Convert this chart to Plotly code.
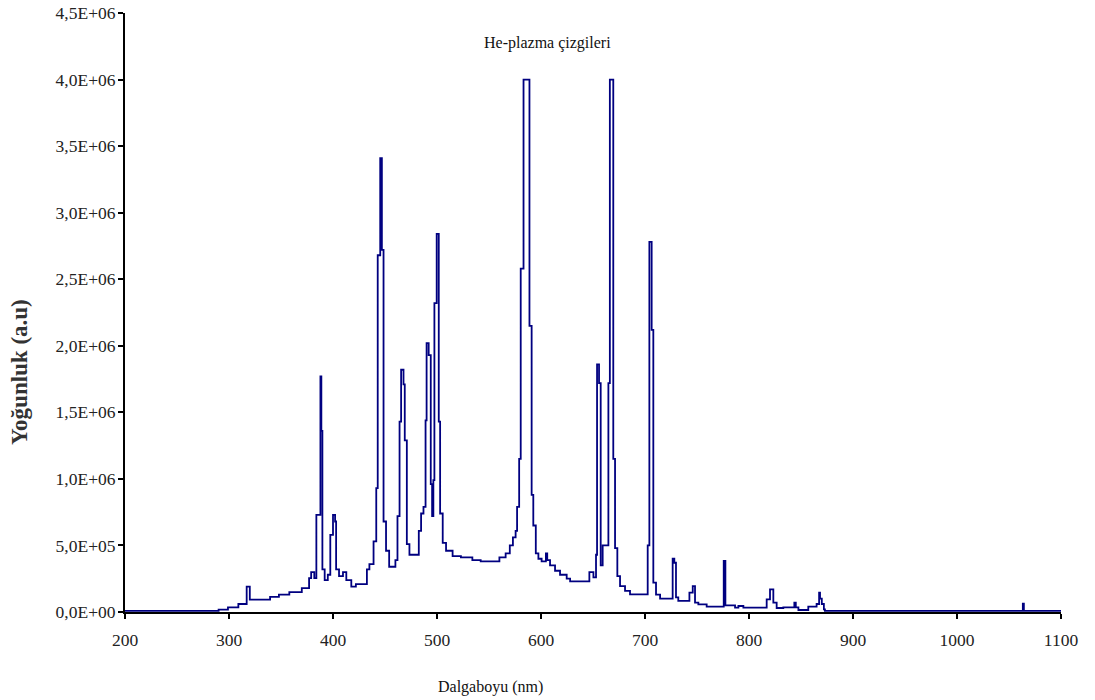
import plotly.graph_objects as go

# Wavelength (nm) and intensity (x1e6 a.u.)
wavelength = [
    200, 290, 299, 309, 317, 320, 339.5, 348, 358, 370, 377, 379, 382, 384,
    387.9, 388.8, 389.8, 392, 395, 397.4, 400, 402, 403, 405.8, 409.6, 412.8,
    417.6, 422, 432.6, 435, 439, 441.6, 443, 445.4, 447, 448.6, 451, 454, 460,
    462, 464, 465.5, 467.8, 469, 471, 473.5, 482.5, 484.7, 487, 489, 490, 492,
    494, 495.3, 496.5, 497.5, 499.7, 501.7, 503, 505.5, 508.7, 515, 523, 534,
    542, 560, 566, 570, 573, 575.6, 577, 579, 580.5, 583.2, 588.9, 591, 592.6,
    595, 597.5, 600.6, 604.7, 606, 608.7, 613.5, 618.3, 624.7, 628, 646.5,
    650.4, 652.9, 653.9, 655.8, 657.4, 659.3, 664.8, 666.2, 669.5, 671.2,
    673.4, 676, 680.8, 685.6, 702.6, 704.2, 706.4, 708, 710.6, 714.5, 726.6,
    728.2, 729.8, 732, 742.7, 745.9, 748.1, 751.3, 759.3, 775.7, 777.3, 786.6,
    789.8, 794.6, 817, 820.2, 823.4, 826.6, 833, 843.6, 845, 847.5, 857, 865,
    867.4, 868.3, 870, 872, 873, 1063.3, 1064.3, 1100,
]
intensity_e6 = [
    0.008, 0.018, 0.035, 0.06, 0.19, 0.093, 0.113, 0.13, 0.15, 0.18, 0.255,
    0.30, 0.255, 0.73, 1.77, 1.36, 0.32, 0.24, 0.28, 0.58, 0.73, 0.68, 0.32,
    0.27, 0.30, 0.24, 0.19, 0.21, 0.32, 0.36, 0.53, 0.93, 2.68, 3.41, 2.72,
    0.68, 0.46, 0.34, 0.39, 0.72, 1.43, 1.82, 1.71, 1.29, 0.51, 0.43, 0.61,
    0.74, 0.79, 1.44, 2.02, 1.93, 0.96, 0.72, 0.99, 2.32, 2.84, 1.43, 0.74,
    0.52, 0.46, 0.42, 0.41, 0.39, 0.38, 0.41, 0.44, 0.50, 0.56, 0.61, 0.79,
    1.15, 2.58, 4.0, 2.15, 0.88, 0.65, 0.44, 0.40, 0.38, 0.44, 0.39, 0.35,
    0.31, 0.28, 0.25, 0.23, 0.30, 0.26, 0.43, 1.86, 1.72, 0.35, 0.50, 1.72,
    4.0, 1.15, 0.48, 0.27, 0.195, 0.158, 0.133, 0.50, 2.78, 2.12, 0.22, 0.13,
    0.10, 0.40, 0.37, 0.11, 0.083, 0.145, 0.195, 0.07, 0.058, 0.04, 0.383,
    0.05, 0.033, 0.045, 0.033, 0.095, 0.17, 0.07, 0.03, 0.035, 0.07, 0.035,
    0.015, 0.04, 0.06, 0.145, 0.10, 0.06, 0.02, 0.008, 0.063, 0.008, 0.008,
]
intensity = [v * 1e6 for v in intensity_e6]

x_ticks = [200, 300, 400, 500, 600, 700, 800, 900, 1000, 1100]
y_tick_vals = [0, 0.5e6, 1.0e6, 1.5e6, 2.0e6, 2.5e6, 3.0e6, 3.5e6, 4.0e6, 4.5e6]
y_tick_text = ["0,0E+00", "5,0E+05", "1,0E+06", "1,5E+06", "2,0E+06",
               "2,5E+06", "3,0E+06", "3,5E+06", "4,0E+06", "4,5E+06"]

title_text = "He-plazma çizgileri"
x_title = "Dalgaboyu (nm)"
y_title = "Yoğunluk (a.u)"

SERIF = "Liberation Serif, Times New Roman, serif"

fig = go.Figure()
fig.add_trace(go.Scatter(
    x=wavelength, y=intensity, mode="lines",
    line=dict(color="#000080", width=1.8, shape="hv"),
    showlegend=False, hoverinfo="x+y",
))

fig.update_layout(
    width=1095, height=700,
    margin=dict(l=125, r=34, t=13, b=88),
    paper_bgcolor="white", plot_bgcolor="white",
    font=dict(family=SERIF, size=17, color="#222222"),
    xaxis=dict(
        range=[200, 1100], tickvals=x_ticks, ticks="outside", ticklen=5,
        tickwidth=1.5, tickcolor="black", showline=True, linecolor="black",
        linewidth=2, showgrid=False, zeroline=False, ticklabelstandoff=6,
        automargin=False,
        tickfont=dict(family=SERIF, size=17.5, color="#222222"),
    ),
    yaxis=dict(
        range=[0, 4.5e6], tickvals=y_tick_vals, ticktext=y_tick_text,
        ticks="outside", ticklen=5, tickwidth=1.5, tickcolor="black",
        showline=True, linecolor="black", linewidth=2, showgrid=False,
        zeroline=False, ticklabelstandoff=-1, automargin=False,
        tickfont=dict(family=SERIF, size=17.5, color="#222222"),
    ),
    annotations=[
        dict(text=title_text, xref="paper", yref="paper", x=0.4509, y=0.95,
             showarrow=False, xanchor="center", yanchor="middle",
             font=dict(family=SERIF, size=16, color="#111111")),
        dict(text=x_title, xref="paper", yref="paper", x=0.391, y=-0.1252,
             showarrow=False, xanchor="center", yanchor="middle",
             font=dict(family=SERIF, size=16, color="#111111")),
        dict(text="<b>" + y_title + "</b>", xref="paper", yref="paper",
             x=-0.1122, y=0.4007, textangle=-90, showarrow=False,
             xanchor="center", yanchor="middle",
             font=dict(family=SERIF, size=23, color="#333333")),
    ],
)

fig.write_html("out.html")
